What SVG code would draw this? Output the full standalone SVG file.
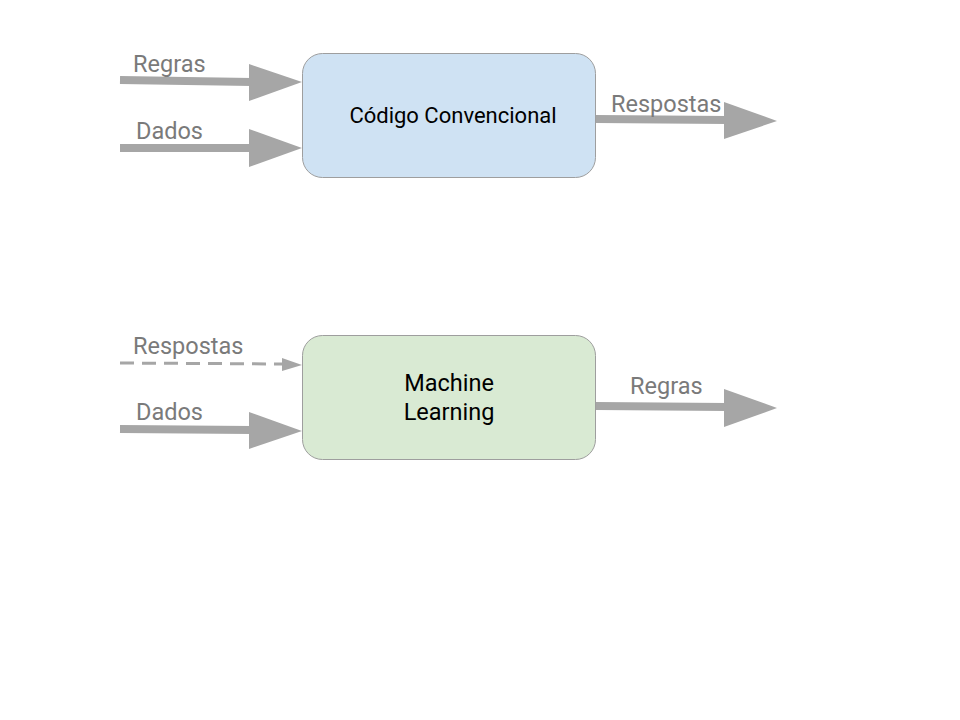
<svg xmlns="http://www.w3.org/2000/svg" width="960" height="720" viewBox="0 0 960 720">
<style>
.box{stroke:#9e9e9e;stroke-width:1}
.lbl{font-family:Roboto,"Liberation Sans",sans-serif;font-size:23.5px;fill:#7a7a7a}
.txt{font-family:Roboto,"Liberation Sans",sans-serif;fill:#000;text-anchor:middle}
.shaft{stroke:#a6a6a6;stroke-width:8;fill:none}
.dash{stroke:#a6a6a6;stroke-width:3;fill:none;stroke-dasharray:14 8}
.head{fill:#a6a6a6}
</style>
<rect width="960" height="720" fill="#fff"/>
<g id="connectors">
<line class="shaft" x1="120" y1="80" x2="252" y2="82"/>
<polygon class="head" points="249,64 302,82 249,101"/>
<line class="shaft" x1="120" y1="148" x2="252" y2="148"/>
<polygon class="head" points="249,129 302,148 249,167"/>
<line class="shaft" x1="596" y1="119" x2="727" y2="120"/>
<polygon class="head" points="724,102 777,121 724,139"/>
<line class="dash" x1="120" y1="363" x2="284" y2="364"/>
<polygon class="head" points="282,358 302,365 282,371"/>
<line class="shaft" x1="120" y1="429" x2="252" y2="430"/>
<polygon class="head" points="249,412 302,431 249,449"/>
<line class="shaft" x1="596" y1="406" x2="727" y2="407"/>
<polygon class="head" points="724,389 777,408 724,427"/>
</g>
<g id="labels">
<text class="lbl" x="133" y="72">Regras</text>
<text class="lbl" x="136" y="139">Dados</text>
<text class="lbl" x="611" y="112">Respostas</text>
<text class="lbl" x="133" y="354">Respostas</text>
<text class="lbl" x="136" y="420">Dados</text>
<text class="lbl" x="630" y="394">Regras</text>
</g>
<g id="codigo">
<rect class="box" x="302.5" y="53.5" width="293" height="124" rx="20" fill="#cfe2f3"/>
<text class="txt" x="453" y="123" font-size="22px">Código Convencional</text>
</g>
<g id="ml">
<rect class="box" x="302.5" y="335.5" width="293" height="124" rx="20" fill="#d9ead3"/>
<text class="txt" x="449" y="391" font-size="23.5px">Machine</text>
<text class="txt" x="449" y="420" font-size="23.5px">Learning</text>
</g>
</svg>
